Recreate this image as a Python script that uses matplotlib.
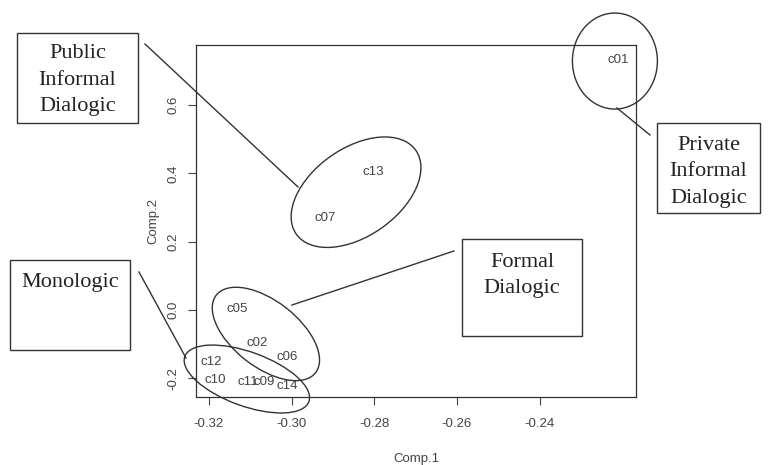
import matplotlib
matplotlib.use("Agg")
import matplotlib.pyplot as plt
from matplotlib.patches import Ellipse, Rectangle
from matplotlib.lines import Line2D
import matplotlib.transforms as mtransforms

# ---- data ----
labels = ["c01", "c13", "c07", "c05", "c02", "c06", "c12", "c10", "c11", "c09", "c14"]
comp1 = [-0.2211, -0.2803, -0.2919, -0.3132, -0.3084, -0.3011, -0.3193, -0.3185, -0.3106, -0.3065, -0.3011]
comp2 = [0.732, 0.404, 0.269, 0.003, -0.097, -0.138, -0.152, -0.205, -0.211, -0.211, -0.222]
xticks = [-0.32, -0.30, -0.28, -0.26, -0.24]
yticks = [-0.2, 0.0, 0.2, 0.4, 0.6]

# groups: (centre comp1, centre comp2, width px, height px, angle deg)
group_ellipses = [
    (-0.2218, 0.729, 85, 96, 0),
    (-0.2844, 0.345, 146, 88, 35),
    (-0.3062, -0.070, 126, 66, -38),
    (-0.3108, -0.202, 132, 54, -20),
]

W, H = 768, 465
fig = plt.figure(figsize=(W / 100, H / 100), dpi=100)
ax = fig.add_axes([196 / W, 1 - 397 / H, (636 - 196) / W, (397 - 45) / H])
ax.set_xlim(-0.3231, -0.2167)
ax.set_ylim(-0.2546, 0.776)
ax.set_xticks(xticks)
ax.set_xticklabels(["-0.32", "-0.30", "-0.28", "-0.26", "-0.24"])
ax.set_yticks(yticks)
ax.set_yticklabels(["-0.2", "0.0", "0.2", "0.4", "0.6"], rotation=90, va="center")
ax.tick_params(axis="x", direction="out", length=6, width=0.8, labelsize=9.5, colors="#444444", pad=9)
ax.tick_params(axis="y", direction="out", length=6, width=0.8, labelsize=9.5, colors="#444444", pad=6)
for lbl in ax.get_xticklabels() + ax.get_yticklabels():
    lbl.set_family("Liberation Sans")
for s in ax.spines.values():
    s.set_linewidth(0.9)
    s.set_color("#333333")
ax.set_xlabel("Comp.1", fontsize=9.5, color="#444444", labelpad=17, family="Liberation Sans")
ax.set_ylabel("Comp.2", fontsize=9.5, color="#444444", labelpad=6, family="Liberation Sans")

for lab, x, y in zip(labels, comp1, comp2):
    ax.text(x, y, lab, fontsize=9.5, ha="center", va="center", color="#444444",
            family="Liberation Sans")

for cx, cy, w, h, ang in group_ellipses:
    tr = fig.dpi_scale_trans + mtransforms.ScaledTranslation(cx, cy, ax.transData)
    e = Ellipse((0, 0), w / 100, h / 100, angle=ang, transform=tr, fill=False,
                edgecolor="#333333", linewidth=1.0, clip_on=False)
    fig.add_artist(e)


def fx(x):
    return x / W


def fy(y):
    return 1 - y / H


boxes = [
    (17, 33, 138, 123, ["Public", "Informal", "Dialogic"], [53, 80, 106]),
    (10, 260, 130, 350, ["Monologic"], [282]),
    (462, 239, 582, 336, ["Formal", "Dialogic"], [262, 288]),
    (657, 123, 760, 213, ["Private", "Informal", "Dialogic"], [145, 172, 198]),
]
for x0, y0, x1, y1, lines, ys in boxes:
    r = Rectangle((fx(x0), fy(y1)), fx(x1) - fx(x0), fy(y0) - fy(y1), transform=fig.transFigure,
                  fill=False, edgecolor="#333333", linewidth=1.0)
    fig.add_artist(r)
    for t, yy in zip(lines, ys):
        fig.text(fx((x0 + x1) / 2), fy(yy), t, ha="center", va="center",
                 family="Liberation Serif", fontsize=16, color="#222222")

connectors = [
    ((145, 44), (298, 187)),
    ((139, 272), (186, 358)),
    ((454, 251), (292, 305)),
    ((617, 108), (650, 135)),
]
for (xa, ya), (xb, yb) in connectors:
    fig.add_artist(Line2D([fx(xa), fx(xb)], [fy(ya), fy(yb)], transform=fig.transFigure,
                          color="#333333", linewidth=1.0))

fig.savefig("out.png", dpi=100)
